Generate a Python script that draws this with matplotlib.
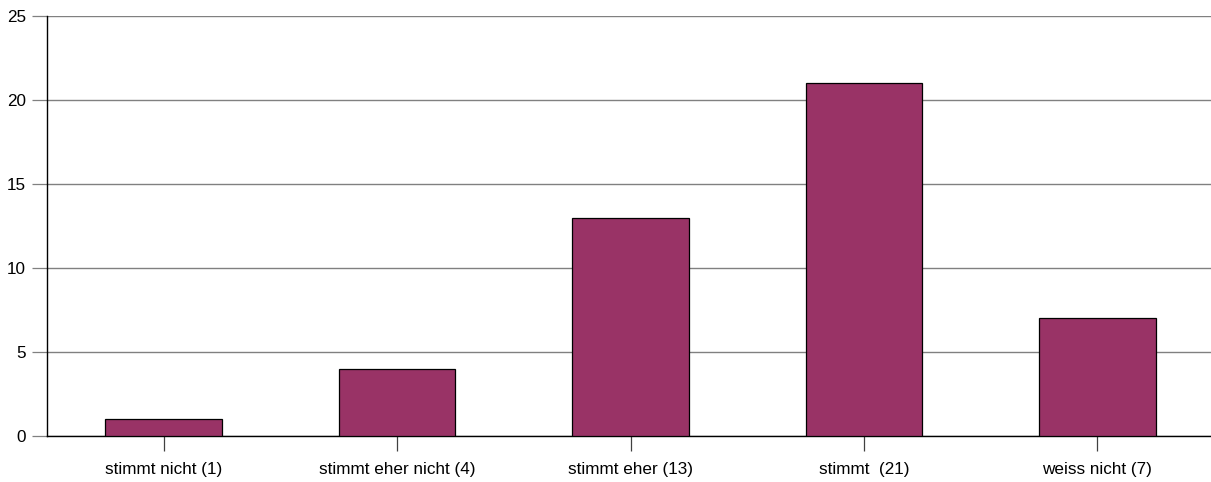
import matplotlib
matplotlib.use("Agg")
import matplotlib.pyplot as plt

categories = ["stimmt nicht (1)", "stimmt eher nicht (4)", "stimmt eher (13)", "stimmt  (21)", "weiss nicht (7)"]
values = [1, 4, 13, 21, 7]
yticks = [0, 5, 10, 15, 20, 25]

plt.rcParams['font.family'] = ['Liberation Sans', 'DejaVu Sans']

fig = plt.figure(figsize=(12.11, 4.82), dpi=100)
ax = fig.add_axes([47/1211, 1-436/482, (1211-47)/1211, (436-16)/482])

x = list(range(len(categories)))
ax.bar(x, values, width=0.5, color="#993366", edgecolor="black", linewidth=0.9, zorder=3)

ax.set_xlim(-0.5, -0.5 + (1211 - 47) / 233.4)
ax.set_ylim(0, 25)
ax.set_yticks(yticks)
ax.set_xticks(x)
ax.set_xticklabels(categories, fontsize=12.3)
ax.tick_params(axis='y', labelsize=12.3, length=11, width=0.9, color="#808080", pad=4)
ax.tick_params(axis='x', length=11, width=0.9, color="#404040", pad=8)

ax.grid(axis='y', color="#808080", linewidth=1.0, zorder=0)
ax.set_axisbelow(True)
for s in ['top', 'right']:
    ax.spines[s].set_visible(False)
ax.spines['left'].set_linewidth(1.0)
ax.spines['bottom'].set_linewidth(1.0)

fig.savefig("out.png", dpi=100)
